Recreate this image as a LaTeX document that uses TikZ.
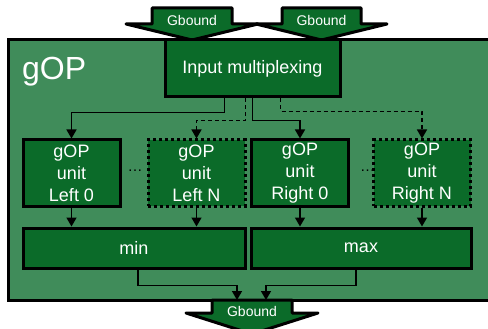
\documentclass[tikz,border=0pt]{standalone}
\usepackage{fontspec}
\setmainfont{Liberation Sans}
\usetikzlibrary{arrows.meta}
\definecolor{gopbg}{RGB}{64,140,90}
\definecolor{gopdark}{RGB}{11,107,41}

\begin{document}
\begin{tikzpicture}
  [x=1pt,y=-1pt,
   every node/.style={text=white,font=\fontsize{18}{22}\selectfont},
   block/.style={draw=black,line width=3pt,fill=gopdark,inner sep=0pt,align=center},
   unitbox/.style={block,minimum width=97pt,minimum height=66pt},
   spare/.style={dash pattern=on 3pt off 3pt},
   link/.style={line width=1.5pt,-{Triangle[length=9pt,width=10pt]}},
   gbound/.style={draw=black,line width=3pt,fill=gopdark,line join=round},
   gbtext/.style={font=\fontsize{14}{16}\selectfont,anchor=base,inner sep=0pt},
   dotsnode/.style={text=black,font=\fontsize{15}{16}\selectfont,inner sep=0pt}]

  \useasboundingbox (0,0) rectangle (488,329);

  % gOP frame
  \draw[line width=3pt,fill=gopbg] (8,40) rectangle (510,300);
  \node[font=\fontsize{32}{36}\selectfont,anchor=base west,inner sep=0pt] (title) at (22,80) {gOP};

  % Gbound inputs and output
  \draw[gbound] (152,8) -- (232,8) -- (232,24) -- (258,24) -- (192,40) -- (126,24) -- (152,24) -- cycle;
  \draw[gbound] (282,8) -- (361,8) -- (361,24) -- (387,24) -- (321.5,40) -- (256,24) -- (282,24) -- cycle;
  \draw[gbound] (212,300) -- (292,300) -- (292,313) -- (318,313) -- (252,334) -- (186,313) -- (212,313) -- cycle;
  \node[gbtext] (gbin1) at (192,26) {Gbound};
  \node[gbtext] (gbin2) at (321.5,26) {Gbound};
  \node[gbtext] (gbout) at (252,316) {Gbound};
  \coordinate (outL) at (237,300);
  \coordinate (outR) at (266,300);

  % blocks
  \node[block,minimum width=175pt,minimum height=57pt] (mux) at (252.5,68.5) {Input multiplexing};

  \node[unitbox] (left0) at (71.5,173) {gOP\\unit\\Left 0};
  \node[unitbox,spare] (leftN) at (196.5,173) {gOP\\unit\\Left N};
  \node[unitbox] (right0) at (300,173) {gOP\\unit\\Right 0};
  \node[unitbox,spare] (rightN) at (422,173) {gOP\\unit\\Right N};
  \node[dotsnode] (dotsL) at (135,171) {…};
  \node[dotsnode] (dotsR) at (367.5,171) {…};

  \node[block,minimum width=222pt,minimum height=40pt] (min) at (134,248) {min};
  \node[block,minimum width=220pt,minimum height=40pt] (max) at (361,248) {max};

  % connectors
  \draw[link] ([xshift=-28pt]mux.south) -- ++(0,14) -| (left0.north);
  \draw[link,dash pattern=on 4pt off 3pt] ([xshift=-7pt]mux.south) -- ++(0,22) -| (leftN.north);
  \draw[link] (mux.south) -- ++(0,22) -| (right0.north);
  \draw[link,dash pattern=on 4pt off 3pt] ([xshift=28pt]mux.south) -- ++(0,13) -| (rightN.north);

  \draw[link] (left0.south) -- (left0.south |- min.north);
  \draw[link] (leftN.south) -- (leftN.south |- min.north);
  \draw[link] (right0.south) -- (right0.south |- max.north);
  \draw[link] (rightN.south) -- (rightN.south |- max.north);

  \draw[link] ([xshift=4pt]min.south) -- ++(0,16) -| (outL);
  \draw[link] ([xshift=-5pt]max.south) -- ++(0,16) -| (outR);

\end{tikzpicture}
\end{document}
